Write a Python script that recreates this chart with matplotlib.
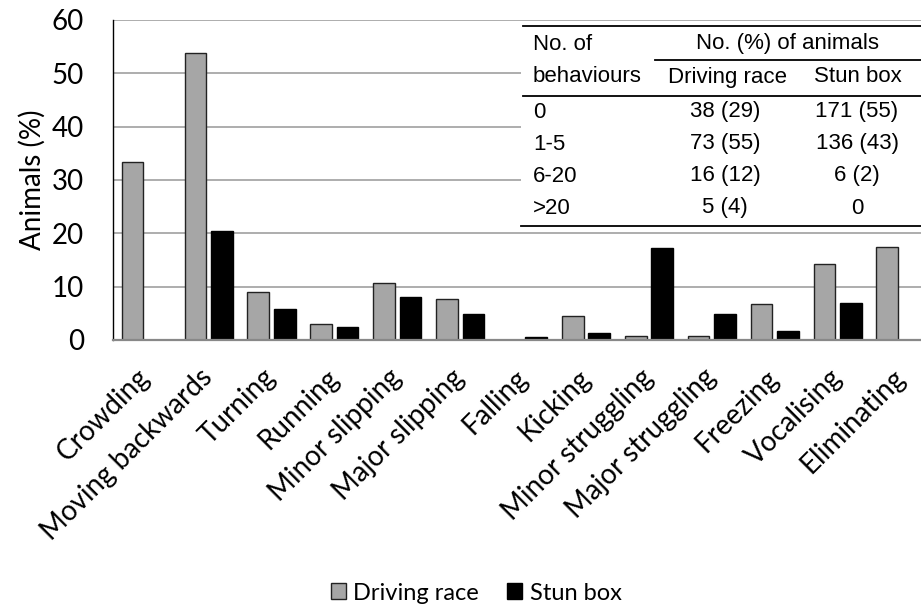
import numpy as np
import matplotlib
matplotlib.use("Agg")
import matplotlib.pyplot as plt
from matplotlib.patches import Rectangle, Patch
from matplotlib.lines import Line2D

categories = ["Crowding", "Moving backwards", "Turning", "Running", "Minor slipping",
              "Major slipping", "Falling", "Kicking", "Minor struggling",
              "Major struggling", "Freezing", "Vocalising", "Eliminating"]
driving_race = [33.3, 53.8, 9.0, 3.0, 10.6, 7.6, 0.0, 4.5, 0.8, 0.8, 6.8, 14.3, 17.5]
stun_box = [0.0, 20.5, 5.8, 2.4, 8.1, 4.9, 0.6, 1.4, 17.3, 4.9, 1.6, 6.9, 0.0]
series_names = ["Driving race", "Stun box"]
yticks = [0, 10, 20, 30, 40, 50, 60]

table_header_left = ["No. of", "behaviours"]
table_group_header = "No. (%) of animals"
table_col_headers = ["Driving race", "Stun box"]
table_rows = ["0", "1-5", "6-20", ">20"]
table_driving = ["38 (29)", "73 (55)", "16 (12)", "5 (4)"]
table_stun = ["171 (55)", "136 (43)", "6 (2)", "0"]

W, H = 921, 608
fig = plt.figure(figsize=(W / 100, H / 100), dpi=100)

def fx(p):
    return p / W

def fy(p):
    return 1 - p / H

ax_left, ax_right, ax_top, ax_bot = 113, 921, 20, 340
ax = fig.add_axes([fx(ax_left), fy(ax_bot), fx(ax_right - ax_left), (ax_bot - ax_top) / H])

x = np.arange(len(categories))
dr = np.array(driving_race)
sb = np.array(stun_box)
bw = 0.345
m1 = dr > 0
m2 = sb > 0
ax.bar(x[m1] - 0.21, dr[m1], width=bw, color="#a6a6a6", edgecolor="#222222", linewidth=1.0, zorder=3)
ax.bar(x[m2] + 0.21, sb[m2], width=bw, color="black", edgecolor="black", linewidth=1.0, zorder=3)

cat_w = 62.9
xl = -0.52
ax.set_xlim(xl, xl + (ax_right - ax_left) / cat_w)
ax.set_ylim(0, 60)
ax.set_yticks(yticks)
ax.yaxis.grid(True, color="#a0a0a0", linewidth=1.2)
ax.set_axisbelow(True)
for s in ["top", "right"]:
    ax.spines[s].set_visible(False)
ax.spines["left"].set_color("black")
ax.spines["left"].set_linewidth(1.0)
ax.spines["bottom"].set_color("#888888")
ax.spines["bottom"].set_linewidth(1.6)
ax.spines["bottom"].set_zorder(4)

font = "Lato"
ax.tick_params(axis="y", length=0, pad=21, labelsize=20)
ax.tick_params(axis="x", length=0, pad=24, labelsize=20)
for lab in ax.get_yticklabels():
    lab.set_fontfamily(font)
ax.set_xticks(x)
ax.set_xticklabels(categories, rotation=45, ha="right", va="center",
                   rotation_mode="anchor", fontfamily=font, fontsize=20)
ax.set_ylabel("Animals (%)", fontfamily=font, fontsize=20, labelpad=4)

# legend
handles = [Patch(facecolor="#a6a6a6", edgecolor="#222222", linewidth=1.0),
           Patch(facecolor="black", edgecolor="black")]
fig.legend(handles, series_names, loc="center", bbox_to_anchor=(fx(476), fy(593)),
           ncol=2, frameon=False, prop={"family": font, "size": 17},
           handlelength=0.65, handleheight=0.65, handletextpad=0.3, columnspacing=1.2)

# inset table
tf = "Liberation Sans"
tsz = 16
fig.add_artist(Rectangle((fx(521), fy(229)), fx(921 - 521), (229 - 23) / H,
                         transform=fig.transFigure, facecolor="white", edgecolor="none", zorder=5))

def hline(x0, x1, y, lw=1.3):
    fig.add_artist(Line2D([fx(x0), fx(x1)], [fy(y), fy(y)], transform=fig.transFigure,
                          color="black", linewidth=lw, zorder=6))

hline(523, 921, 26)
hline(655, 921, 60)
hline(523, 921, 96)
hline(521, 921, 226)

def ttext(px, py, s, ha):
    fig.text(fx(px), fy(py), s, ha=ha, va="center", fontfamily=tf, fontsize=tsz, zorder=7)

ttext(533, 44, table_header_left[0], "left")
ttext(533, 77, table_header_left[1], "left")
ttext(787, 43, table_group_header, "center")
ttext(727, 77, table_col_headers[0], "center")
ttext(858, 77, table_col_headers[1], "center")
row_y = [112, 144, 176, 208]
for i, ry in enumerate(row_y):
    ttext(533, ry, table_rows[i], "left")
    ttext(725, ry, table_driving[i], "center")
    ttext(857, ry, table_stun[i], "center")

fig.savefig("out.png", dpi=100)
